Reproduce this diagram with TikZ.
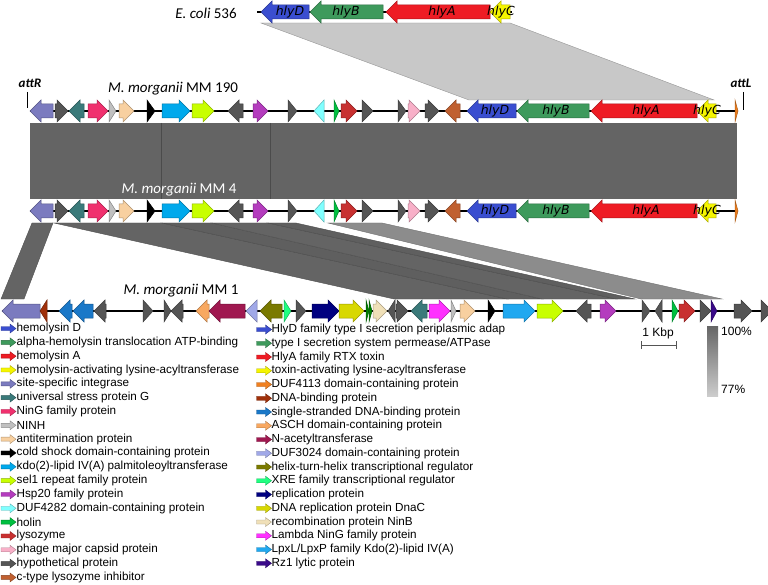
\documentclass[tikz,border=0pt]{standalone}
\usepackage{fontspec}
\setmainfont{Liberation Sans}
\newfontfamily\calfont{Carlito}
\newfontfamily\verfont{DejaVu Sans}
\definecolor{cHlyD}{HTML}{3A4ED0}
\definecolor{cHlyB}{HTML}{3E9A5C}
\definecolor{cHlyA}{HTML}{EE1C24}
\definecolor{cHlyC}{HTML}{F5F500}
\definecolor{cInteg}{HTML}{7B7BBF}
\definecolor{cUsp}{HTML}{3A7A7A}
\definecolor{cNinG}{HTML}{F0306E}
\definecolor{cNinH}{HTML}{C0C0C0}
\definecolor{cAnti}{HTML}{F8D0A0}
\definecolor{cCold}{HTML}{000000}
\definecolor{cKdo}{HTML}{00A9EC}
\definecolor{cSel}{HTML}{C8FF00}
\definecolor{cHsp}{HTML}{B43CBE}
\definecolor{cDuf}{HTML}{80FFFF}
\definecolor{cHolin}{HTML}{00C040}
\definecolor{cLys}{HTML}{C83030}
\definecolor{cCapsid}{HTML}{F8B0C8}
\definecolor{cHyp}{HTML}{555555}
\definecolor{cInhib}{HTML}{C06030}
\definecolor{cOrange}{HTML}{F08020}
\definecolor{cDnaB}{HTML}{A0300A}
\definecolor{cSsb}{HTML}{1A78C8}
\definecolor{cAsch}{HTML}{F8A860}
\definecolor{cNacet}{HTML}{A01850}
\definecolor{cDufB}{HTML}{A0A8E8}
\definecolor{cHth}{HTML}{7A7A00}
\definecolor{cXre}{HTML}{20FF80}
\definecolor{cRep}{HTML}{000080}
\definecolor{cDnaC}{HTML}{D8D800}
\definecolor{cNinB}{HTML}{F0E0B8}
\definecolor{cLNinG}{HTML}{FF30FF}
\definecolor{cLpx}{HTML}{20A8F0}
\definecolor{cRz}{HTML}{3A0A8A}
\definecolor{cDkGreen}{HTML}{008000}
\definecolor{bandDark}{HTML}{646464}
\definecolor{bandMid}{HTML}{8C8C8C}
\definecolor{bandLight}{HTML}{C8C8C8}
\newcommand{\genearr}[4]{%
  \pgfmathsetmacro{\gl}{abs(#3-#2)}%
  \pgfmathsetmacro{\gh}{min(11,\gl)}%
  \pgfmathsetmacro{\gb}{#3-sign(#3-#2)*\gh}%
  \filldraw[fill=#4,draw=#4!70!black,line width=0.5pt]
    (#2,#1-7) -- (\gb,#1-7) -- (\gb,#1-11) -- (#3,#1) -- (\gb,#1+11) -- (\gb,#1+7) -- (#2,#1+7) -- cycle;}
\newcommand{\legarr}[3]{%
  \filldraw[fill=#3,draw=#3!70!black,line width=0.4pt]
    (#1,#2-2) -- (#1+9,#2-2) -- (#1+9,#2-4.5) -- (#1+15,#2) -- (#1+9,#2+4.5) -- (#1+9,#2+2) -- (#1,#2+2) -- cycle;}
\newcommand{\hband}[5]{% top-left, top-right, bottom-left, bottom-right, fill
  \filldraw[fill=#5,draw=#5!80!black,line width=0.4pt] (#1,223) -- (#2,223) -- (#4,299) -- (#3,299) -- cycle;}
\tikzset{
  track/.style={line width=2.5pt,black},
  tracklabel/.style={font=\calfont\fontsize{15}{17}\selectfont,inner sep=0pt},
  genelabel/.style={font=\verfont\itshape\fontsize{12.5}{14}\selectfont,inner sep=0pt},
  attlabel/.style={font=\calfont\bfseries\itshape\fontsize{13}{15}\selectfont,inner sep=0pt},
  legtext/.style={font=\fontsize{11.7}{13}\selectfont,anchor=west,inner sep=0pt},
  smalltext/.style={font=\fontsize{12}{14}\selectfont,inner sep=0pt}
}
\begin{document}
\begin{tikzpicture}[x=1pt,y=-1pt]
\useasboundingbox (0,0) rectangle (768,585);
% ---- E. coli -> MM190 homology band
\filldraw[fill=bandLight,draw=bandLight!75!black,line width=0.4pt] (261,23) -- (510,23) -- (714,100) -- (469,100) -- cycle;
% ---- MM190 -> MM4 band
\fill[bandDark] (30,123) rectangle (737,199);
\draw[bandDark!75!black,line width=0.6pt] (161,123) -- (161,199) (270,123) -- (270,199);
% ---- MM4 -> MM1 bands
\hband{32}{53}{1}{24}{bandDark}
\hband{54}{162}{394}{507}{bandDark}
\hband{162}{212}{507}{542}{bandDark!95!black}
\hband{212}{268}{542}{616}{bandDark}
\hband{268}{296}{616}{635}{bandDark!95!black}
\hband{328}{382}{641}{722}{bandMid}
% ---- E. coli 536
\node[tracklabel] (lEcoli) at (206,13) {\itshape E. coli\/\upshape{} 536};
\draw[track] (257,12) -- (512,12);
\foreach \a/\b/\c in {309/261/cHlyD,383/310/cHlyB,490/386/cHlyA,510/490/cHlyC} {\genearr{12}{\a}{\b}{\c}}
\node[genelabel] (eD) at (290,12) {hlyD};
\node[genelabel] (eB) at (346,12) {hlyB};
\node[genelabel] (eA) at (442,12) {hlyA};
\node[genelabel] (eC) at (501,12) {hlyC};
% ---- MM190 and MM4
\foreach \y in {111,211} {
  \draw[track] (30,\y) -- (737,\y);
  \foreach \a/\b/\c in {53/30/cInteg,55/68/cHyp,84/69/cUsp,88/108/cNinG,109/116/cNinH,119/134/cAnti,147/155/cCold,162/190/cKdo,192/214/cSel,243/228/cHyp,253/268/cHsp,288/297/cHyp,324/314/cDuf,334/339/cHolin,341/357/cLys,362/373/cHyp,398/406/cHyp,408/420/cCapsid,425/439/cHyp,460/445/cInhib,516/467/cHlyD,589/517/cHlyB,697/591/cHlyA,716/697/cHlyC,735/738/cOrange} {\genearr{\y}{\a}{\b}{\c}}
}
\foreach \y/\n in {111/a,211/b} {
  \node[genelabel] (D\n) at (495,\y) {hlyD};
  \node[genelabel] (B\n) at (556,\y) {hlyB};
  \node[genelabel] (A\n) at (646,\y) {hlyA};
  \node[genelabel] (C\n) at (707,\y) {hlyC};
}
\node[tracklabel] (l190) at (173,89) {\itshape M. morganii\/\upshape{} MM 190};
\node[tracklabel,text=white] (l4) at (179,190) {\itshape M. morganii\/\upshape{} MM 4};
\node[attlabel] (attR) at (30,83) {attR};
\node[attlabel] (attL) at (741,83) {attL};
\draw[line width=0.8pt] (27,92) -- (27,108);
\draw[line width=0.8pt] (743,92) -- (743,110);
% ---- MM1
\node[tracklabel] (l1) at (181,291) {\itshape M. morganii\/\upshape{} MM 1};
\draw[track] (2,311) -- (768,311);
\foreach \a/\b/\c in {40/2/cInteg,47/40/cDnaB,72/59/cSsb,93/73/cSsb,106/94/cHyp,143/153/cHyp,164/171/cHyp,183/171/cHyp,209/196/cAsch,245/209/cNacet,257/246/cDufB,282/260/cHth,284/291/cXre,296/306/cHyp,312/339/cRep,339/364/cDnaC,366/369/cDkGreen,369/372/cDkGreen,373/387/cNinB,395/388/cHyp,396/408/cHyp,427/411/cUsp,429/450/cLNinG,451/456/cNinH,460/475/cAnti,488/495/cCold,503/535/cLpx,537/563/cSel,591/576/cHyp,600/616/cHsp,642/650/cHyp,662/655/cHyp,672/678/cHolin,679/695/cLys,700/711/cHyp,711/717/cRz,734/752/cHyp,761/772/cHyp} {\genearr{311}{\a}{\b}{\c}}
% ---- scale
\node[smalltext] (kbp) at (658,333) {1 Kbp};
\draw[cHyp,line width=0.8pt] (641,345) -- (676,345) (641,341) -- (641,349) (676,341) -- (676,349);
\shade[top color=black!60,bottom color=black!20] (707,326) rectangle (718,396);
\node[smalltext,anchor=west] (p100) at (721,331) {100\%};
\node[smalltext,anchor=west] (p77) at (721,389) {77\%};
% ---- legend left
\foreach \t/\c [count=\i from 0] in {hemolysin D/cHlyD,alpha-hemolysin translocation ATP-binding/cHlyB,hemolysin A/cHlyA,hemolysin-activating lysine-acyltransferase/cHlyC,site-specific integrase/cInteg,universal stress protein G/cUsp,NinG family protein/cNinG,NINH/cNinH,antitermination protein/cAnti,cold shock domain-containing protein/cCold,kdo(2)-lipid IV(A) palmitoleoyltransferase/cKdo,sel1 repeat family protein/cSel,Hsp20 family protein/cHsp,DUF4282 domain-containing protein/cDuf,holin/cHolin,lysozyme/cLys,phage major capsid protein/cCapsid,hypothetical protein/cHyp,c-type lysozyme inhibitor/cInhib} {
  \pgfmathsetmacro{\yy}{328.5+13.83*\i}
  \legarr{1}{\yy}{\c}
  \node[legtext] (L\i) at (16.5,\yy) {\t};
}
% ---- legend right
\foreach \t/\c [count=\i from 0] in {HlyD family type I secretion periplasmic adap/cHlyD,type I secretion system permease{/}ATPase/cHlyB,HlyA family RTX toxin/cHlyA,toxin-activating lysine-acyltransferase/cHlyC,DUF4113 domain-containing protein/cOrange,DNA-binding protein/cDnaB,single-stranded DNA-binding protein/cSsb,ASCH domain-containing protein/cAsch,N-acetyltransferase/cNacet,DUF3024 domain-containing protein/cDufB,helix-turn-helix transcriptional regulator/cHth,XRE family transcriptional regulator/cXre,replication protein/cRep,DNA replication protein DnaC/cDnaC,recombination protein NinB/cNinB,Lambda NinG family protein/cLNinG,LpxL{/}LpxP family Kdo(2)-lipid IV(A)/cLpx,Rz1 lytic protein/cRz} {
  \pgfmathsetmacro{\yy}{329.5+13.75*\i}
  \legarr{256.5}{\yy}{\c}
  \node[legtext] (R\i) at (271.5,\yy) {\t};
}
\end{tikzpicture}
\end{document}
